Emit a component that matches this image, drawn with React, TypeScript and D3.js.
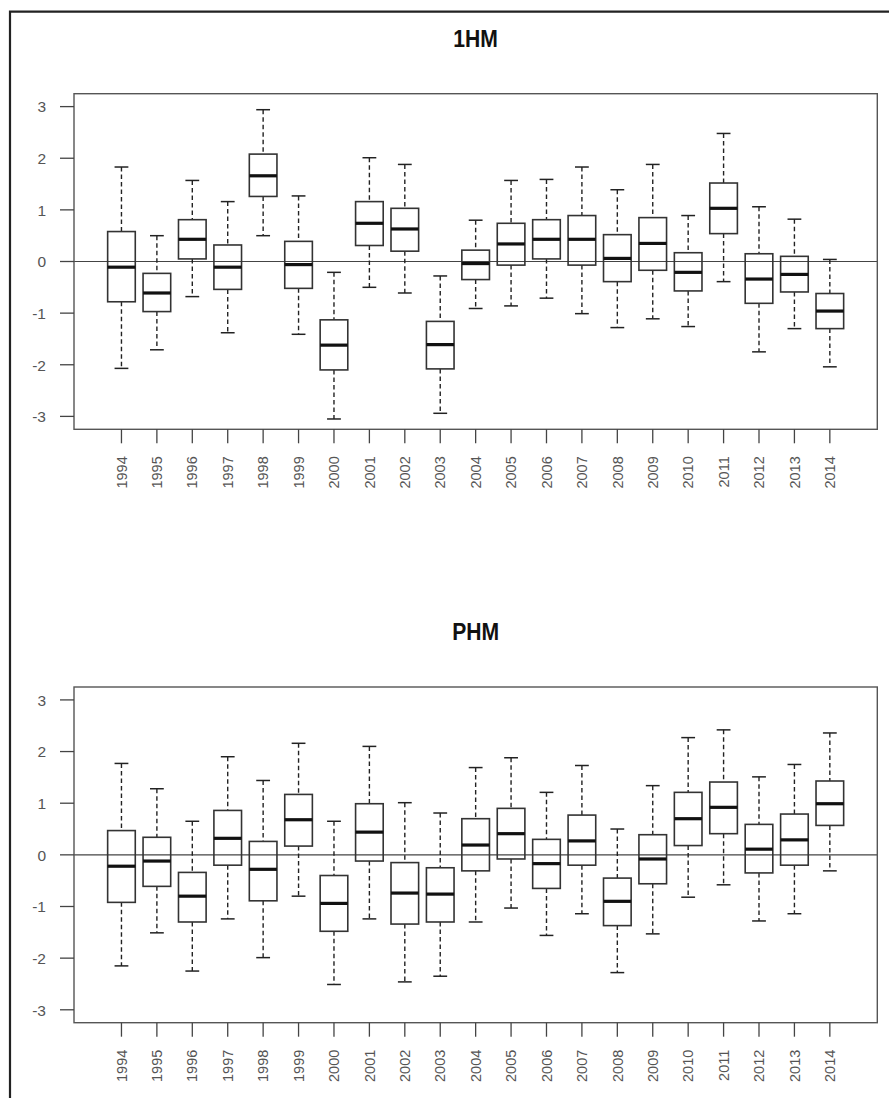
import React from "react";
import * as d3 from "d3";

const years = ["1994","1995","1996","1997","1998","1999","2000","2001","2002","2003","2004","2005","2006","2007","2008","2009","2010","2011","2012","2013","2014"];
const yTicks = [-3, -2, -1, 0, 1, 2, 3];

// 1HM panel
const hm1Upper = [1.83, 0.50, 1.57, 1.16, 2.94, 1.27, -0.21, 2.01, 1.88, -0.28, 0.80, 1.57, 1.59, 1.83, 1.39, 1.88, 0.89, 2.48, 1.06, 0.82, 0.04];
const hm1Q3 = [0.58, -0.23, 0.81, 0.32, 2.08, 0.39, -1.13, 1.16, 1.03, -1.16, 0.22, 0.74, 0.81, 0.89, 0.52, 0.85, 0.17, 1.52, 0.15, 0.10, -0.62];
const hm1Median = [-0.11, -0.61, 0.43, -0.11, 1.66, -0.06, -1.62, 0.74, 0.63, -1.61, -0.04, 0.34, 0.43, 0.43, 0.06, 0.35, -0.21, 1.03, -0.34, -0.25, -0.96];
const hm1Q1 = [-0.78, -0.97, 0.05, -0.54, 1.26, -0.52, -2.10, 0.31, 0.20, -2.08, -0.35, -0.07, 0.05, -0.07, -0.39, -0.17, -0.57, 0.54, -0.81, -0.59, -1.30];
const hm1Lower = [-2.07, -1.71, -0.68, -1.38, 0.50, -1.41, -3.05, -0.50, -0.61, -2.94, -0.91, -0.86, -0.71, -1.01, -1.28, -1.11, -1.26, -0.39, -1.75, -1.30, -2.04];

// PHM panel
const phmUpper = [1.77, 1.28, 0.65, 1.90, 1.44, 2.16, 0.65, 2.10, 1.01, 0.81, 1.69, 1.88, 1.21, 1.73, 0.50, 1.34, 2.27, 2.42, 1.51, 1.75, 2.36];
const phmQ3 = [0.47, 0.34, -0.34, 0.86, 0.26, 1.17, -0.40, 0.99, -0.15, -0.25, 0.70, 0.90, 0.30, 0.77, -0.45, 0.39, 1.21, 1.41, 0.59, 0.79, 1.43];
const phmMedian = [-0.22, -0.12, -0.80, 0.32, -0.28, 0.68, -0.94, 0.44, -0.74, -0.76, 0.19, 0.41, -0.17, 0.27, -0.90, -0.08, 0.70, 0.92, 0.11, 0.29, 0.99];
const phmQ1 = [-0.92, -0.61, -1.30, -0.20, -0.89, 0.17, -1.48, -0.12, -1.34, -1.30, -0.31, -0.08, -0.65, -0.20, -1.37, -0.56, 0.18, 0.41, -0.35, -0.20, 0.57];
const phmLower = [-2.15, -1.51, -2.25, -1.24, -1.99, -0.80, -2.51, -1.24, -2.46, -2.35, -1.30, -1.03, -1.56, -1.14, -2.28, -1.53, -0.82, -0.58, -1.28, -1.14, -0.31];

type PanelProps = {
  title: string;
  top: number;
  bottom: number;
  upper: number[];
  q3: number[];
  median: number[];
  q1: number[];
  lower: number[];
};

const LEFT = 74;
const RIGHT = 877.3;

function Panel({ title, top, bottom, upper, q3, median, q1, lower }: PanelProps) {
  const x = d3.scaleLinear().domain([-0.34, years.length + 1.34]).range([LEFT, RIGHT]);
  const y = d3.scaleLinear().domain([-3.25, 3.25]).range([bottom, top]);
  const step = x(2) - x(1);
  const boxW = step * 0.78;
  const capW = boxW * 0.5;
  const font = "'Liberation Sans', Arial, sans-serif";
  return (
    <g>
      <text x={(LEFT + RIGHT) / 2} y={top - 46.5} textAnchor="middle" fontFamily={font} fontWeight="bold" fontSize={23} fill="#111" transform={`translate(${(LEFT + RIGHT) / 2},0) scale(0.92,1) translate(${-(LEFT + RIGHT) / 2},0)`}>
        {title}
      </text>
      {/* zero line */}
      <line x1={LEFT} x2={RIGHT} y1={y(0)} y2={y(0)} stroke="#444" strokeWidth={1.2} />
      {years.map((yr, i) => {
        const cx = x(i + 1);
        return (
          <g key={yr}>
            <line x1={cx} x2={cx} y1={y(upper[i])} y2={y(q3[i])} stroke="#222" strokeWidth={1.4} strokeDasharray="4.5,3" />
            <line x1={cx} x2={cx} y1={y(q1[i])} y2={y(lower[i])} stroke="#222" strokeWidth={1.4} strokeDasharray="4.5,3" />
            <line x1={cx - capW / 2} x2={cx + capW / 2} y1={y(upper[i])} y2={y(upper[i])} stroke="#222" strokeWidth={1.5} />
            <line x1={cx - capW / 2} x2={cx + capW / 2} y1={y(lower[i])} y2={y(lower[i])} stroke="#222" strokeWidth={1.5} />
            <rect x={cx - boxW / 2} y={y(q3[i])} width={boxW} height={y(q1[i]) - y(q3[i])} fill="none" stroke="#333" strokeWidth={1.6} />
            <line x1={cx - boxW / 2} x2={cx + boxW / 2} y1={y(median[i])} y2={y(median[i])} stroke="#111" strokeWidth={3.2} />
          </g>
        );
      })}
      {/* plot box */}
      <rect x={LEFT} y={top} width={RIGHT - LEFT} height={bottom - top} fill="none" stroke="#555" strokeWidth={1.4} />
      {/* y axis */}
      {yTicks.map((t) => (
        <g key={t}>
          <line x1={LEFT - 14} x2={LEFT} y1={y(t)} y2={y(t)} stroke="#444" strokeWidth={1.3} />
          <text x={LEFT - 28} y={y(t) + 5.8} textAnchor="end" fontFamily={font} fontSize={15.5} fill="#555">
            {t}
          </text>
        </g>
      ))}
      {/* x axis */}
      {years.map((yr, i) => {
        const cx = x(i + 1);
        return (
          <g key={yr}>
            <line x1={cx} x2={cx} y1={bottom} y2={bottom + 14} stroke="#444" strokeWidth={1.3} />
            <text transform={`translate(${cx + 5.2},${bottom + 27}) rotate(-90)`} textAnchor="end" fontFamily={font} fontSize={14.5} fill="#555">
              {yr}
            </text>
          </g>
        );
      })}
    </g>
  );
}

export default function App() {
  return (
    <svg width={889} height={1098} style={{ position: "absolute", left: 0, top: 0, background: "#fff" }}>
      <rect x={0} y={0} width={889} height={1098} fill="#fff" />
      <path d="M10,1098 V11.7 H889" fill="none" stroke="#222" strokeWidth={2.2} />
      <Panel title="1HM" top={93.7} bottom={429.3} upper={hm1Upper} q3={hm1Q3} median={hm1Median} q1={hm1Q1} lower={hm1Lower} />
      <Panel title="PHM" top={687} bottom={1022.7} upper={phmUpper} q3={phmQ3} median={phmMedian} q1={phmQ1} lower={phmLower} />
    </svg>
  );
}
